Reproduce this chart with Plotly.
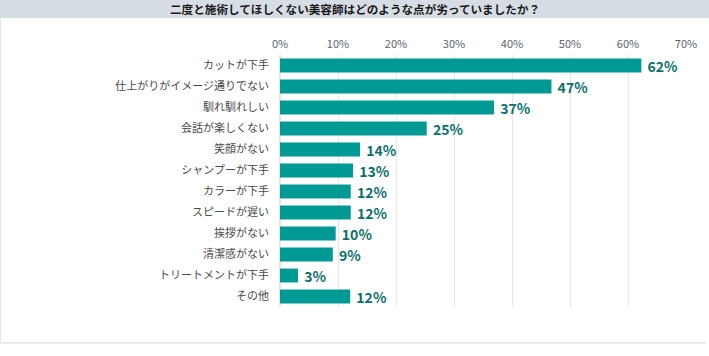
import plotly.graph_objects as go

categories = ["カットが下手", "仕上がりがイメージ通りでない", "馴れ馴れしい", "会話が楽しくない",
              "笑顔がない", "シャンプーが下手", "カラーが下手", "スピードが遅い",
              "挨拶がない", "清潔感がない", "トリートメントが下手", "その他"]
values = [62.3, 46.8, 36.9, 25.3, 13.8, 12.6, 12.2, 12.2, 9.6, 9.1, 3.1, 12.1]
value_labels = ["62%", "47%", "37%", "25%", "14%", "13%", "12%", "12%", "10%", "9%", "3%", "12%"]
tick_vals = [0, 10, 20, 30, 40, 50, 60, 70]
tick_text = ["0%", "10%", "20%", "30%", "40%", "50%", "60%", "70%"]
title = "二度と施術してほしくない美容師はどのような点が劣っていましたか？"

W, H = 709, 356
L, R, T, B = 280, 686, 55, 307

def px(x):
    return (x - L) / (R - L)

def py(y):
    return (B - y) / (B - T)

fig = go.Figure(go.Bar(
    x=values, y=categories, orientation="h",
    marker=dict(color="#009a94", line=dict(width=0)),
    width=0.66,
    text=["\u00a0" + t for t in value_labels], textposition="outside", constraintext="none",
    textfont=dict(family="Noto Sans CJK JP", size=14, color="#0b706b", weight="bold"),
    cliponaxis=False, hoverinfo="skip",
))

fig.update_layout(
    width=W, height=H,
    margin=dict(l=L, r=W - R, t=T, b=H - B, autoexpand=False),
    paper_bgcolor="white", plot_bgcolor="white",
    showlegend=False,
    font=dict(family="Noto Sans CJK JP", color="#555"),
    xaxis=dict(range=[0, 70], side="top", tickvals=tick_vals, ticktext=tick_text,
               showgrid=True, gridcolor="#e4e7eb", gridwidth=1, zeroline=True,
               zerolinecolor="#e4e7eb", tickfont=dict(size=11, color="#5b6470"),
               ticks="", ticklabelstandoff=4, automargin=False),
    yaxis=dict(autorange="reversed", tickfont=dict(size=11, color="#4a4a4a"),
               ticks="", ticklabelstandoff=10, showgrid=False, automargin=False),
    shapes=[
        dict(type="rect", xref="paper", yref="paper", x0=px(0), x1=px(W), y0=py(18), y1=py(0),
             fillcolor="#d7dde5", line=dict(width=0), layer="below"),
        dict(type="line", xref="paper", yref="paper", x0=px(0.5), x1=px(0.5), y0=py(18), y1=py(343),
             line=dict(color="#e0e5eb", width=1)),
        dict(type="line", xref="paper", yref="paper", x0=px(0), x1=px(706), y0=py(343), y1=py(343),
             line=dict(color="#e0e5eb", width=1.5)),
    ],
    annotations=[dict(text=title, xref="paper", yref="paper", x=px(355), y=py(9.5),
                      showarrow=False, xanchor="center", yanchor="middle",
                      font=dict(size=11.6, color="#1a1a1a", weight="bold"))],
)

fig.write_html("out.html", config={"displayModeBar": False},
               post_script="document.body.style.margin='0';document.body.style.overflow='hidden';")
